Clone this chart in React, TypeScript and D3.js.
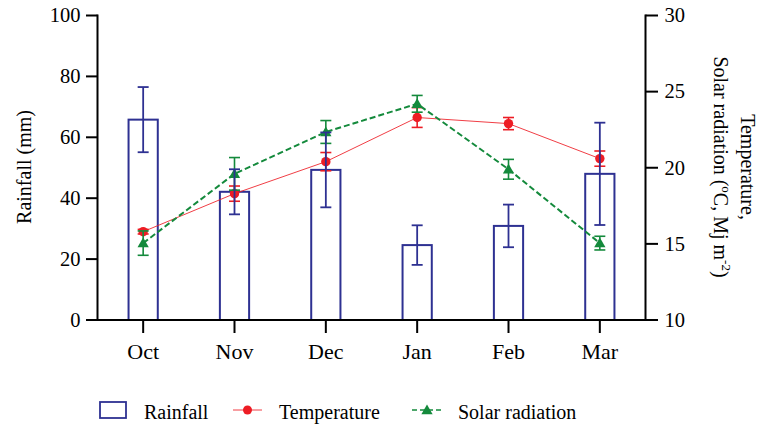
import React from 'react';
import * as d3 from 'd3';

const months = ['Oct', 'Nov', 'Dec', 'Jan', 'Feb', 'Mar'];
const rainfall = [65.8, 42.1, 49.3, 24.6, 30.9, 48.0];
const rainfallErr = [10.7, 7.4, 12.3, 6.5, 7.0, 16.8];
const temperature = [15.8, 18.3, 20.4, 23.3, 22.9, 20.6];
const temperatureErr = [0.15, 0.5, 0.6, 0.65, 0.4, 0.5];
const solar = [15.05, 19.6, 22.35, 24.2, 19.9, 15.05];
const solarErr = [0.8, 1.07, 0.75, 0.55, 0.65, 0.45];
const leftTicks = [0, 20, 40, 60, 80, 100];
const rightTicks = [10, 15, 20, 25, 30];

const NAVY = '#2e3192';
const RED = '#ed1c24';
const GREEN = '#148a3c';
const FONT = '"Liberation Serif", "Times New Roman", serif';

const W = 763;
const H = 427;
const left = 97.5;
const right = 645.5;
const top = 15.5;
const bottom = 320;

export default function App() {
  const x = d3.scaleBand<string>().domain(months).range([left, right]).paddingInner(0.68).paddingOuter(0.34);
  const yL = d3.scaleLinear().domain([0, 100]).range([bottom, top]);
  const yR = d3.scaleLinear().domain([10, 30]).range([bottom, top]);
  const cx = (m: string) => (x(m) as number) + x.bandwidth() / 2;

  const line = d3.line<number>().x((_, i) => cx(months[i])).y(d => yR(d));
  const tri = d3.symbol().type(d3.symbolTriangle).size(55)() as string;
  const cap = 5.5;

  const errBar = (xc: number, y1: number, y2: number, color: string, key: string, w = 1.8) => (
    <g key={key} stroke={color} strokeWidth={w} fill="none">
      <line x1={xc} x2={xc} y1={y1} y2={y2} />
      <line x1={xc - cap} x2={xc + cap} y1={y1} y2={y1} />
      <line x1={xc - cap} x2={xc + cap} y1={y2} y2={y2} />
    </g>
  );

  return (
    <svg width={W} height={H} style={{ position: 'absolute', left: 0, top: 0, background: '#fff' }} fontFamily={FONT}>
      {/* bars */}
      {months.map((m, i) => (
        <rect key={m} x={x(m)} y={yL(rainfall[i])} width={x.bandwidth()} height={yL(0) - yL(rainfall[i])}
          fill="#fff" stroke={NAVY} strokeWidth={2} />
      ))}

      {/* temperature */}
      <path d={line(temperature) as string} fill="none" stroke={RED} strokeOpacity={0.85} strokeWidth={1} />
      {months.map((m, i) => errBar(cx(m), yR(temperature[i] + temperatureErr[i]), yR(temperature[i] - temperatureErr[i]), RED, 't' + m, 1.6))}
      {months.map((m, i) => (
        <circle key={'tc' + m} cx={cx(m)} cy={yR(temperature[i])} r={4.7} fill={RED} />
      ))}

      {/* solar radiation */}
      <path d={line(solar) as string} fill="none" stroke={GREEN} strokeWidth={2} strokeDasharray="6,3" />
      {months.map((m, i) => errBar(cx(m), yR(solar[i] + solarErr[i]), yR(solar[i] - solarErr[i]), GREEN, 's' + m, 1.6))}
      {months.map((m, i) => (
        <path key={'sp' + m} d={tri} transform={`translate(${cx(m)},${yR(solar[i]) + 1})`} fill={GREEN} />
      ))}

      {/* rainfall error bars on top */}
      {months.map((m, i) => errBar(cx(m), yL(rainfall[i] + rainfallErr[i]), yL(rainfall[i] - rainfallErr[i]), NAVY, 'r' + m))}

      {/* axes */}
      <g stroke="#000" strokeWidth={2} fill="none">
        <line x1={left} x2={left} y1={top - 1} y2={bottom + 1} />
        <line x1={right} x2={right} y1={top - 1} y2={bottom + 1} />
        <line x1={left} x2={right} y1={bottom} y2={bottom} />
        {leftTicks.map(t => <line key={'lt' + t} x1={left - 11.5} x2={left} y1={yL(t)} y2={yL(t)} />)}
        {rightTicks.map(t => <line key={'rt' + t} x1={right} x2={right + 12.5} y1={yR(t)} y2={yR(t)} />)}
        {months.map(m => <line key={'bt' + m} x1={cx(m)} x2={cx(m)} y1={bottom} y2={bottom + 13} />)}
      </g>
      <g fontSize={20.5} fill="#000">
        {leftTicks.map(t => (
          <text key={'ll' + t} x={left - 17} y={yL(t)} dy="0.33em" textAnchor="end">{t}</text>
        ))}
        {rightTicks.map(t => (
          <text key={'rl' + t} x={right + 19} y={yR(t)} dy="0.33em">{t}</text>
        ))}
      </g>
      <g fontSize={22} fill="#000">
        {months.map(m => (
          <text key={'bl' + m} x={cx(m)} y={359} textAnchor="middle">{m}</text>
        ))}
      </g>

      {/* axis titles */}
      <text transform="translate(31,167) rotate(-90)" textAnchor="middle" fontSize={20}>Rainfall (mm)</text>
      <g transform="translate(741,167) rotate(90)" fontSize={20} textAnchor="middle">
        <text x={0} y={0}>Temperature,</text>
        <text x={0} y={27}>
          Solar radiation (<tspan fontSize={13} dy={-8}>o</tspan><tspan dy={8}>C, Mj m</tspan><tspan fontSize={13} dy={-8}>-2</tspan><tspan dy={8}>)</tspan>
        </text>
      </g>

      {/* legend */}
      <rect x={100} y={402} width={26} height={16} fill="#fff" stroke={NAVY} strokeWidth={1.8} />
      <text x={144} y={419} fontSize={20}>Rainfall</text>
      <line x1={233} x2={262} y1={410} y2={410} stroke={RED} strokeOpacity={0.85} strokeWidth={1} />
      <circle cx={247.5} cy={410} r={4.5} fill={RED} />
      <text x={279} y={419} fontSize={20}>Temperature</text>
      <line x1={412} x2={442} y1={410} y2={410} stroke={GREEN} strokeWidth={1.7} strokeDasharray="5,3" />
      <path d={tri} transform="translate(427,411)" fill={GREEN} />
      <text x={458} y={419} fontSize={20}>Solar radiation</text>
    </svg>
  );
}
